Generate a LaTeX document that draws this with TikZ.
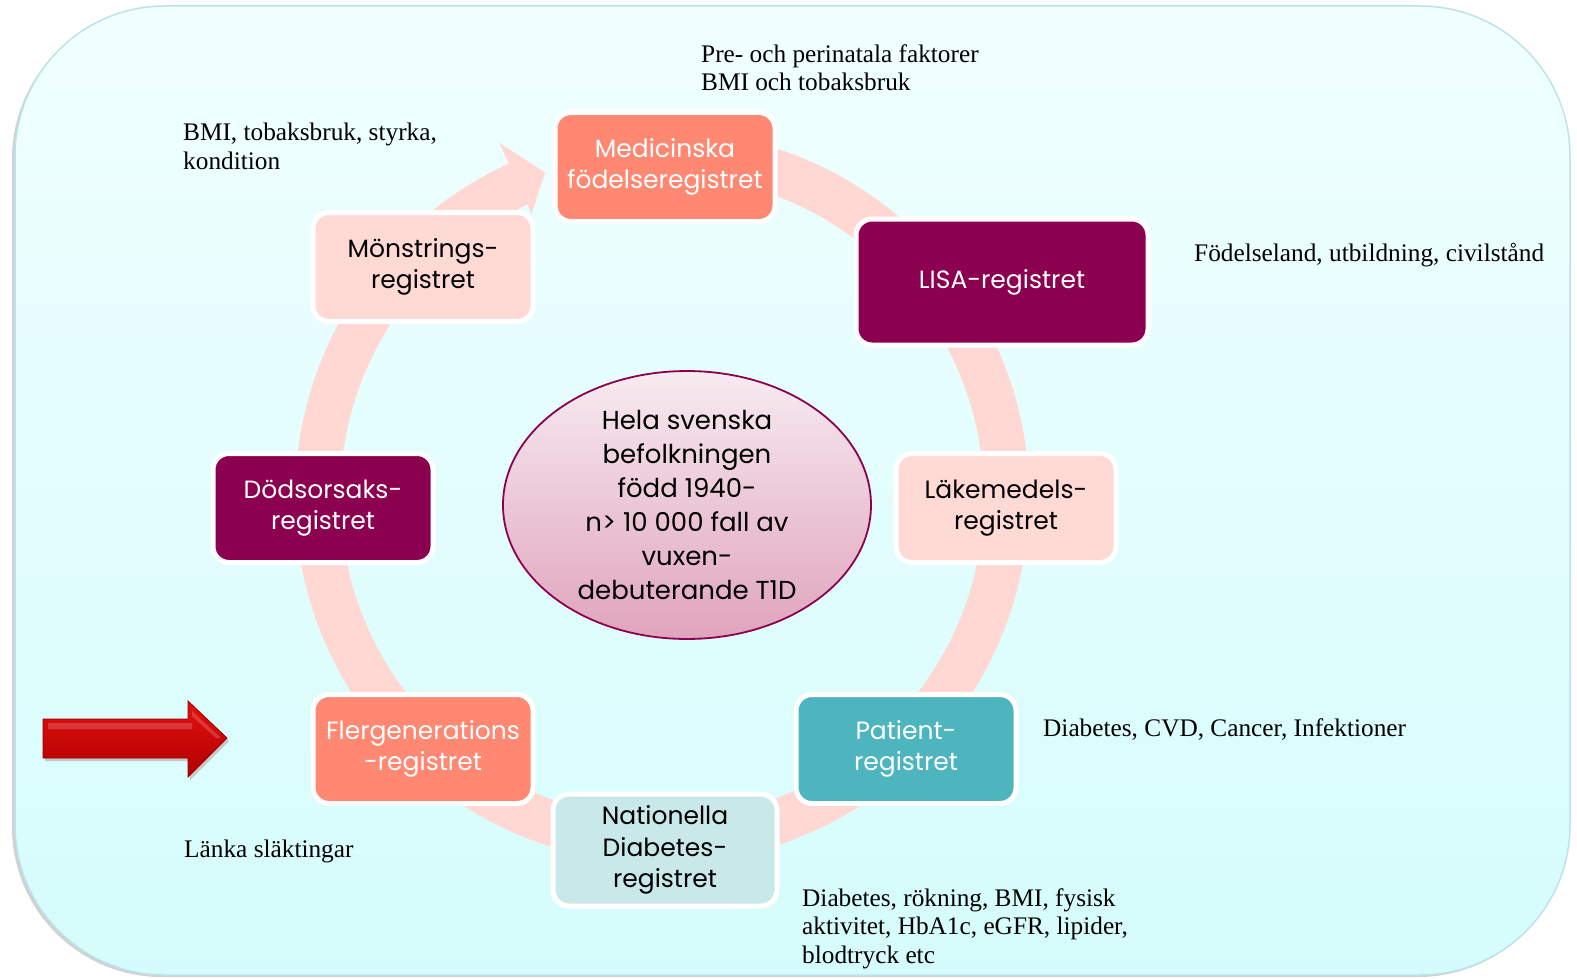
\documentclass[tikz,border=0pt]{standalone}
\usepackage{fontspec}
\setmainfont{Liberation Serif}
\newfontfamily\boxfont{Poppins}
\usetikzlibrary{shapes.geometric,calc}
\definecolor{salmon}{HTML}{FF8872}
\definecolor{plum}{HTML}{8B004F}
\definecolor{blush}{HTML}{FFDAD4}
\definecolor{tealbox}{HTML}{4DB5BD}
\definecolor{aqua}{HTML}{C9E8EA}
\definecolor{ringc}{HTML}{FFD8D4}
\definecolor{bgtop}{HTML}{F1FFFF}
\definecolor{bgbot}{HTML}{D5FCFC}
\definecolor{bgline}{HTML}{BCE3E6}
\definecolor{elltop}{HTML}{F7EBF0}
\definecolor{ellbot}{HTML}{E0A4BC}
\definecolor{redtop}{HTML}{E41010}
\definecolor{redbot}{HTML}{B00000}
\begin{document}
\begin{tikzpicture}[x=1pt,y=-1pt,
  reg/.style={draw=white, line width=5pt, rounded corners=16pt,
    minimum width=220pt, minimum height=109pt, align=center, inner sep=0pt,
    font=\boxfont\fontsize{25}{31.5}\selectfont},
  note/.style={anchor=north west, align=left, inner sep=0pt,
    font=\fontsize{25.3}{28.8}\selectfont},
]
\useasboundingbox (0,0) rectangle (1577,979);
% background panel
\fill[black!18, rounded corners=150pt] (12,9) rectangle (1568,977);
\path[top color=bgtop, bottom color=bgbot, draw=bgline, line width=1.5pt,
  rounded corners=150pt] (15,6) rectangle (1570,975);
% circular arrow
\coordinate (C) at (662,497);
\fill[ringc] ($(C)+(-100:322)$) arc[start angle=-100, end angle=245.3, radius=322]
  -- ($(C)+(245.3:312)$) -- ($(C)+(250.2:345)$) -- ($(C)+(245.3:390)$)
  -- ($(C)+(245.3:367)$) arc[start angle=245.3, end angle=-100, radius=367] -- cycle;
% centre ellipse
\node[ellipse, draw=plum, line width=1.8pt, top color=elltop, bottom color=ellbot,
  minimum width=368pt, minimum height=262pt, inner sep=0pt, align=center,
  font=\boxfont\fontsize{26}{34}\selectfont] (pop) at (687,505)
  {Hela svenska\\befolkningen\\född 1940-\\n> 10 000 fall av\\vuxen-\\debuterande T1D};
% registers
\node[reg, fill=salmon, text=white] (mfr) at (665,167) {Medicinska\\födelseregistret};
\node[reg, fill=plum, text=white, minimum width=292pt, minimum height=126pt] (lisa) at (1002,282) {LISA-registret};
\node[reg, fill=blush, text=black] (lmr) at (1006,508) {Läkemedels-\\registret};
\node[reg, fill=tealbox, text=white] (par) at (906,749) {Patient-\\registret};
\node[reg, fill=aqua, text=black, minimum width=224pt, minimum height=112pt] (ndr) at (665,850) {Nationella\\Diabetes-\\registret};
\node[reg, fill=salmon, text=white] (fgr) at (423,749) {Flergenerations\\-registret};
\node[reg, fill=plum, text=white] (dor) at (323,508) {Dödsorsaks-\\registret};
\node[reg, fill=blush, text=black] (mon) at (423,267) {Mönstrings-\\registret};
% notes
\node[note] (n1) at (701,44) {Pre- och perinatala faktorer\\BMI och tobaksbruk};
\node[note] (n2) at (183,123) {BMI, tobaksbruk, styrka,\\kondition};
\node[note] (n3) at (1194,243) {Födelseland, utbildning, civilstånd};
\node[note] (n4) at (1043,718) {Diabetes, CVD, Cancer, Infektioner};
\node[note] (n5) at (184,840) {Länka släktingar};
\node[note] (n6) at (802,888) {Diabetes, rökning, BMI, fysisk\\aktivitet, HbA1c, eGFR, lipider,\\blodtryck etc};
% red arrow
\fill[black!22] (45,722) -- (190,722) -- (190,704) -- (229,741) -- (190,780) -- (190,761) -- (45,761) -- cycle;
\path[top color=redtop, bottom color=redbot, draw=redbot!85!black, line width=0.8pt]
  (43,719) -- (188,719) -- (188,701) -- (227,738) -- (188,777) -- (188,758) -- (43,758) -- cycle;
\fill[white, opacity=0.18] (48,723) -- (192,723) -- (192,711) -- (221,738) -- (216,738) -- (192,716) -- (192,729) -- (48,729) -- cycle;
\end{tikzpicture}
\end{document}
